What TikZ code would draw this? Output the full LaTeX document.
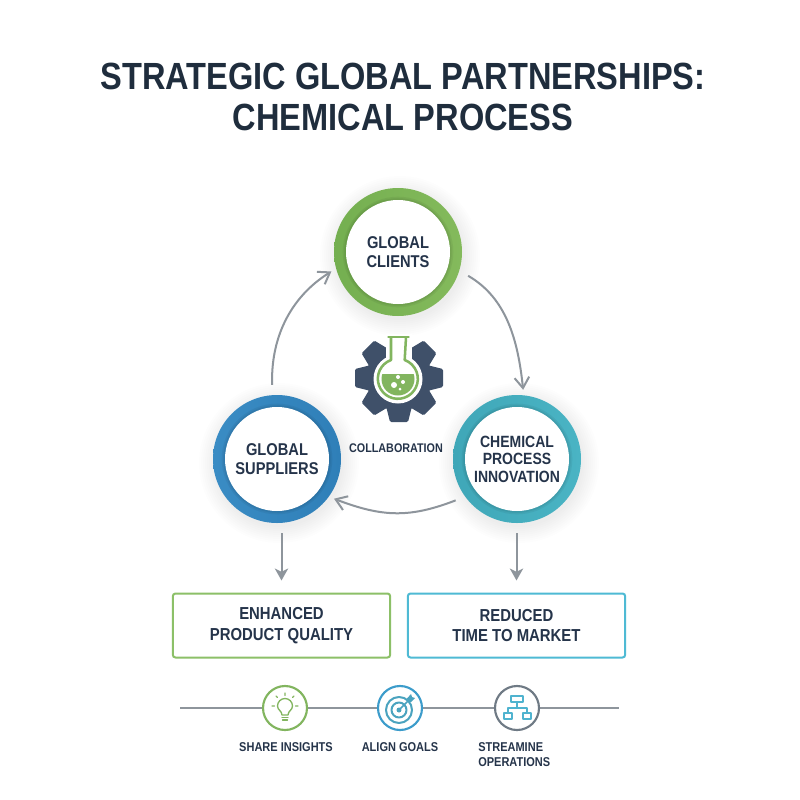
\documentclass[tikz,border=0pt]{standalone}
\usepackage{fontspec}
\setmainfont[FakeStretch=0.86]{Liberation Sans}
\usetikzlibrary{arrows.meta,calc,shapes.geometric}
\definecolor{ink}{HTML}{25344A}
\definecolor{titlec}{HTML}{1F2D3D}
\definecolor{gearc}{HTML}{3F5069}
\definecolor{arrowc}{HTML}{8E959C}
\definecolor{grnA}{HTML}{84BA5C}
\definecolor{grnB}{HTML}{74AF50}
\definecolor{bluA}{HTML}{2F7FB8}
\definecolor{bluB}{HTML}{3A8CC4}
\definecolor{tealA}{HTML}{3FA7B8}
\definecolor{tealB}{HTML}{4AB4C4}
\definecolor{boxg}{HTML}{8CC068}
\definecolor{boxc}{HTML}{4FBAD4}
\definecolor{iconb}{HTML}{3C9CCB}
\definecolor{icong}{HTML}{82B55F}
\definecolor{icons}{HTML}{6F7A85}
\definecolor{iconc}{HTML}{4FB3CF}
\definecolor{icont}{HTML}{4AA3BF}
\tikzset{
  ringnode/.style={circle,minimum size=96pt,inner sep=0pt,align=center,text=ink,
    font=\bfseries\fontsize{12.8}{14.6}\selectfont,
    path picture={
      \fill[black,opacity=.05] (path picture bounding box.center) circle (41.5pt);
      \fill[black,opacity=.06] (path picture bounding box.center) circle (40.3pt);
      \fill[white] (path picture bounding box.center) circle (39pt);}},
  flow/.style={draw=arrowc,line width=1.5pt,-{Straight Barb[length=8pt,width=11pt,line width=1.5pt]},shorten >=4pt,shorten <=7.5pt},
  drop/.style={draw=arrowc,line width=1.5pt,-{Stealth[length=9pt,width=10pt,inset=2.5pt]},shorten <=7.5pt,shorten >=9pt},
  result/.style={rectangle,rounded corners=2pt,line width=1.5pt,fill=white,minimum width=163pt,minimum height=48pt,
    align=center,text=ink,inner sep=0pt,font=\bfseries\fontsize{13}{15.5}\selectfont},
  badge/.style={circle,minimum size=33pt,inner sep=0pt,fill=white,line width=1.6pt},
  caption/.style={text=ink,inner sep=0pt,font=\bfseries\fontsize{9.6}{11.2}\selectfont},
  softshadow/.style={fill=black,opacity=.009},
  iconline/.style={line width=1pt,line cap=round,line join=round}
}
\begin{document}
\begin{tikzpicture}[x=.75pt,y=-.75pt]
\useasboundingbox (0,0) rectangle (800,800);
\fill[white] (0,0) rectangle (800,800);
% title
\node (title) [text=titlec,align=center,inner sep=0pt,font=\bfseries\fontsize{28.4}{30.8}\selectfont] at (403,97)
  {STRATEGIC GLOBAL PARTNERSHIPS:\\CHEMICAL PROCESS};
% soft shadows
\foreach \cx/\cy in {398/252,277/459,517/459}{
  \foreach \r in {64,66,...,80}{
    \fill[softshadow] (\cx+2,\cy+4) circle (\r*.75pt);
  }
}
% main rings
\node (cli) [ringnode,left color=grnB,right color=grnA] at (398,252) {GLOBAL\\CLIENTS};
\node (sup) [ringnode,left color=bluB,right color=bluA] at (277,459) {GLOBAL\\SUPPLIERS};
\node (inn) [ringnode,left color=tealA,right color=tealB,font=\bfseries\fontsize{12.2}{13.2}\selectfont] at (517,459) {CHEMICAL\\PROCESS\\INNOVATION};
% cycle arrows
\draw[flow] (sup.94) to[out=92,in=212,looseness=1] (cli.195);
\draw[flow] (cli.-17) to[out=-30,in=96,looseness=1] (inn.84);
\draw[flow] (inn.216) to[out=201,in=-21,looseness=1.1] (sup.-36);
% gear
\begin{scope}[shift={(399,378)}]
  \fill[gearc] (0,0) circle (33*.75pt);
  \foreach \a in {0,45,...,315}{
    \begin{scope}[rotate=\a]
      \fill[gearc,rounded corners=1pt] (28,-13) -- (44,-9) -- (44,9) -- (28,13) -- cycle;
    \end{scope}
  }
\end{scope}
% flask
\fill[white] (398,379) circle (24.5*.75pt);
\fill[white] (386,334) rectangle (412,362);
\begin{scope}
  \clip (398,379) circle (16.5*.75pt);
  \fill[icong] (380,374) rectangle (416,398);
\end{scope}
\foreach \bx/\by/\br in {394/385/3,398/377/2,403/382/2,400/389/1.5}{
  \fill[white] (\bx,\by) circle (\br*.75pt);
}
\draw[icong,line width=1.9pt,line cap=round,line join=round]
  (391,337.5) -- (391,360) arc[start angle=110,end angle=430,radius=20*.75pt] -- (406,337.5);
\draw[icong,line width=2.2pt,line cap=round] (388.5,337) -- (408.5,337);
\node (collab) [text=ink,inner sep=0pt,font=\bfseries\fontsize{9.4}{11}\selectfont] at (396,448) {COLLABORATION};
% result boxes
\node (enh) [result,draw=boxg,anchor=center] at (281.5,625.5) {ENHANCED\\PRODUCT QUALITY};
\node (red) [result,draw=boxc,anchor=center] at (516.5,625.5) {REDUCED\\TIME TO MARKET};
\draw[drop] (sup.south -| enh.north) -- (enh.north);
\draw[drop] (inn.south -| red.north) -- (red.north);
% bottom line
\coordinate (lineL) at (180,708);
\coordinate (lineR) at (619,708);
\draw[arrowc,line width=1.5pt] (lineL) -- (lineR);
\node (b1) [badge,draw=icong] at (285,708) {};
\node (b2) [badge,draw=iconb] at (400,708) {};
\node (b3) [badge,draw=icons] at (517,708) {};
% bulb icon
\begin{scope}[shift={(285,708)},icong,iconline]
  \draw (-3,7) .. controls (-3,3) and (-7.5,2) .. (-7.5,-2) arc[start angle=180,end angle=0,radius=7.5*.75pt] .. controls (7.5,2) and (3,3) .. (3,7) -- cycle;
  \draw (-3,9.5) -- (3,9.5) (-2.5,12) -- (2.5,12);
  \draw (0,-15) -- (0,-12.5) (-9,-12) -- (-7.5,-10.5) (9,-12) -- (7.5,-10.5) (-13,-2) -- (-10.5,-2) (13,-2) -- (10.5,-2);
\end{scope}
% target icon
\begin{scope}[shift={(399,710)},iconline]
  \draw[icont,line width=1.5pt] (0,0) circle (13*.75pt);
  \draw[icont,line width=1.5pt] (0,0) circle (7.5*.75pt);
  \fill[icont] (0,0) circle (2.5*.75pt);
  \draw[icont,line width=1.2pt] (0,0) -- (10,-10);
  \fill[icont] (8,-11.5) -- (12,-16) -- (13,-13) -- (16,-12) -- (12,-8) -- (9,-8.5) -- cycle;
\end{scope}
% hierarchy icon
\begin{scope}[shift={(517,708)},iconc,iconline]
  \draw (-6,-12) rectangle (6,-6);
  \draw (-13,5) rectangle (-5,11);
  \draw (6,5) rectangle (14,11);
  \draw (0,-6) -- (0,0) (-9,5) -- (-9,0) -- (10,0) -- (10,5);
\end{scope}
% captions
\node (c1) [caption] at (286,747) {SHARE INSIGHTS};
\node (c2) [caption] at (400,747) {ALIGN GOALS};
\node (c3) [caption,align=left,anchor=west] at (478,754.5) {STREAMINE\\[.6pt]OPERATIONS};
\end{tikzpicture}
\end{document}
